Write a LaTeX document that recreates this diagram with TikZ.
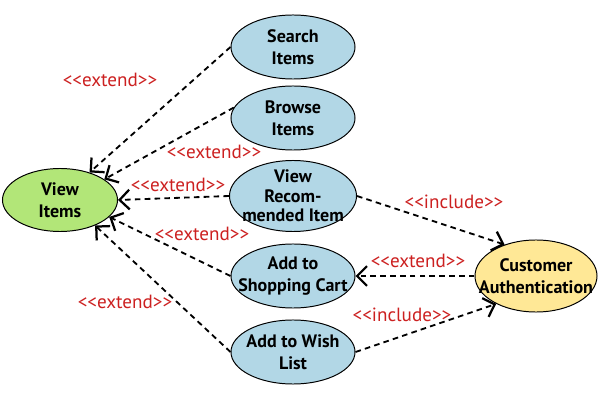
\documentclass[tikz,border=0pt]{standalone}
\usepackage{fontspec}
\setmainfont{PT Sans}
\usetikzlibrary{shapes.geometric,arrows.meta}
\definecolor{ucblue}{RGB}{178,215,230}
\definecolor{ucgreen}{RGB}{178,230,120}
\definecolor{ucyellow}{RGB}{255,232,150}
\definecolor{stereored}{RGB}{204,32,32}
\begin{document}
\begin{tikzpicture}[x=0.025cm,y=-0.025cm,
  usecase/.style={ellipse,draw,line width=0.7pt,fill=ucblue,minimum width=3.1cm,minimum height=1.6cm,inner sep=0pt},
  uctext/.style={align=center,font=\bfseries\fontsize{12.8}{15.5}\selectfont},
  dep/.style={line width=1.3pt,dash pattern=on 4pt off 3pt,-{Straight Barb[length=7pt,width=14pt,line width=1.6pt]}},
  stereo/.style={text=stereored,font=\fontsize{13.6}{15}\selectfont}]
  \useasboundingbox (0,0) rectangle (600,400);
  \node[usecase,fill=ucgreen,minimum width=2.875cm,minimum height=1.575cm,label={[uctext]center:View\\Items}] (view) at (60,200) {};
  \node[usecase,label={[uctext]center:Search\\Items}] (search) at (293,47) {};
  \node[usecase,label={[uctext]center:Browse\\Items}] (browse) at (293,118) {};
  \node[usecase,minimum width=3.175cm,minimum height=1.775cm,label={[uctext,font=\bfseries\fontsize{12.8}{14}\selectfont]center:View\\Recom-\\mended Item}] (recom) at (293,196) {};
  \node[usecase,label={[uctext]center:Add to\\Shopping Cart}] (cart) at (293,276) {};
  \node[usecase,label={[uctext]center:Add to Wish\\List}] (wish) at (293,352) {};
  \node[usecase,fill=ucyellow,minimum width=3.05cm,minimum height=1.8cm,label={[uctext]center:Customer\\Authentication}] (auth) at (536,276) {};
  \draw[dep] (search.west) -- (view.43);
  \draw[dep] (browse.170) -- (view.25);
  \draw[dep] (recom.west) -- (view.east);
  \draw[dep] (cart.west) -- (view.-19);
  \draw[dep] (wish.west) -- (view.-36);
  \draw[dep] (recom.east) -- (auth.135);
  \draw[dep] (auth.west) -- (cart.east);
  \draw[dep] (wish.east) -- (auth.215);
  \node[stereo] (ext1) at (110,80) {{<}{<}extend{>}{>}};
  \node[stereo] (ext2) at (214,152) {{<}{<}extend{>}{>}};
  \node[stereo] (ext3) at (178,185) {{<}{<}extend{>}{>}};
  \node[stereo] (ext4) at (202,234) {{<}{<}extend{>}{>}};
  \node[stereo] (ext5) at (125,302) {{<}{<}extend{>}{>}};
  \node[stereo] (inc1) at (454,202) {{<}{<}include{>}{>}};
  \node[stereo] (ext6) at (418,261) {{<}{<}extend{>}{>}};
  \node[stereo] (inc2) at (402,315) {{<}{<}include{>}{>}};
\end{tikzpicture}
\end{document}
